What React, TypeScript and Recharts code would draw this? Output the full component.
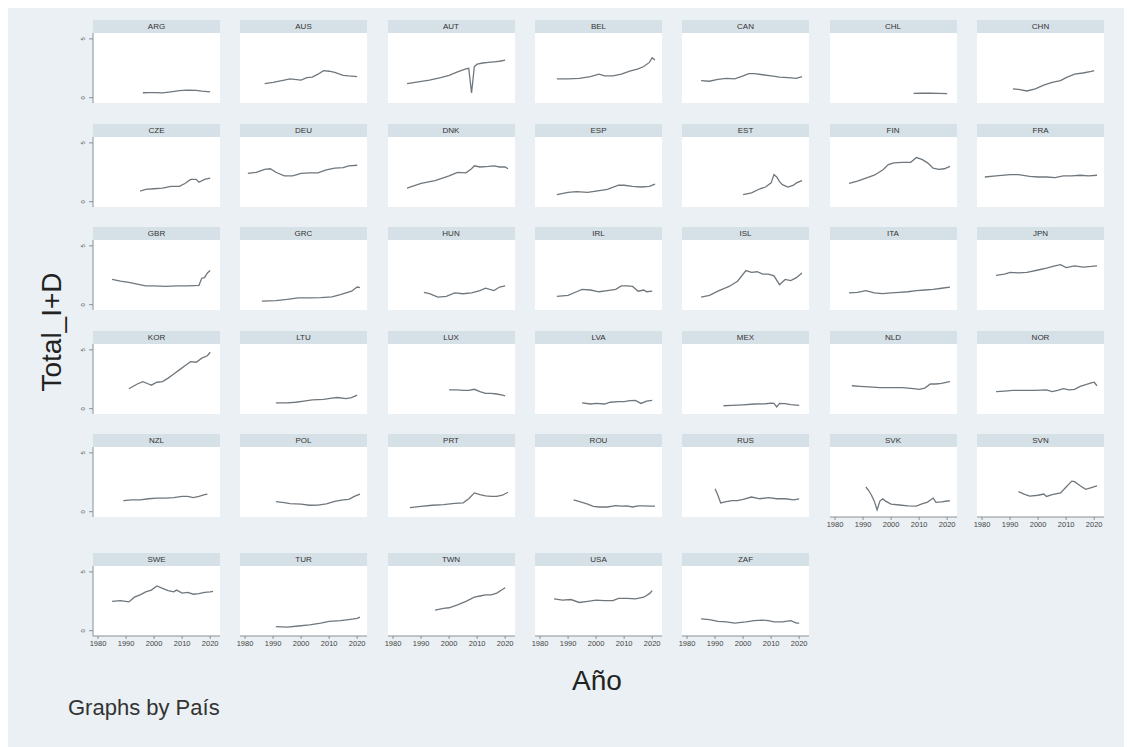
import React from 'react';
import { LineChart, Line, XAxis, YAxis } from 'recharts';

type Pt = [number, number];

const COUNTRIES = [
  'ARG', 'AUS', 'AUT', 'BEL', 'CAN', 'CHL', 'CHN',
  'CZE', 'DEU', 'DNK', 'ESP', 'EST', 'FIN', 'FRA',
  'GBR', 'GRC', 'HUN', 'IRL', 'ISL', 'ITA', 'JPN',
  'KOR', 'LTU', 'LUX', 'LVA', 'MEX', 'NLD', 'NOR',
  'NZL', 'POL', 'PRT', 'ROU', 'RUS', 'SVK', 'SVN',
  'SWE', 'TUR', 'TWN', 'USA', 'ZAF',
];

const YEAR_TICKS = [1980, 1990, 2000, 2010, 2020];
const VALUE_TICKS = [0, 5];

// Total_I+D by year
const ARG: Pt[] = [[1996, 0.42], [1998, 0.44], [2000, 0.44], [2003, 0.41], [2006, 0.5], [2009, 0.6], [2012, 0.65], [2015, 0.62], [2017, 0.56], [2020, 0.5]];
const AUS: Pt[] = [[1987, 1.2], [1990, 1.3], [1994, 1.5], [1996, 1.6], [2000, 1.5], [2002, 1.7], [2004, 1.75], [2006, 2.0], [2008, 2.3], [2010, 2.25], [2012, 2.15], [2015, 1.9], [2017, 1.85], [2020, 1.8]];
const AUT: Pt[] = [[1985, 1.2], [1989, 1.35], [1993, 1.5], [1997, 1.7], [2000, 1.9], [2003, 2.2], [2006, 2.45], [2007, 2.5], [2008, 0.4], [2009, 2.65], [2010, 2.85], [2012, 2.95], [2014, 3.0], [2016, 3.05], [2018, 3.1], [2020, 3.2]];
const BEL: Pt[] = [[1986, 1.6], [1990, 1.6], [1994, 1.65], [1998, 1.8], [2001, 2.0], [2003, 1.85], [2006, 1.85], [2009, 2.0], [2012, 2.25], [2015, 2.45], [2017, 2.65], [2019, 3.0], [2020, 3.4], [2021, 3.2]];
const CAN: Pt[] = [[1985, 1.45], [1988, 1.4], [1991, 1.55], [1994, 1.65], [1997, 1.6], [2000, 1.85], [2002, 2.05], [2004, 2.05], [2007, 1.95], [2010, 1.85], [2013, 1.75], [2016, 1.7], [2019, 1.65], [2021, 1.8]];
const CHL: Pt[] = [[2008, 0.37], [2011, 0.38], [2014, 0.39], [2017, 0.37], [2020, 0.35]];
const CHN: Pt[] = [[1991, 0.75], [1993, 0.7], [1996, 0.57], [1999, 0.76], [2002, 1.07], [2005, 1.31], [2008, 1.45], [2010, 1.71], [2013, 2.0], [2016, 2.1], [2019, 2.24], [2020, 2.3]];
const CZE: Pt[] = [[1995, 0.9], [1997, 1.05], [2000, 1.1], [2003, 1.15], [2006, 1.3], [2009, 1.3], [2011, 1.55], [2013, 1.9], [2015, 1.9], [2016, 1.65], [2018, 1.9], [2020, 2.0]];
const DEU: Pt[] = [[1981, 2.4], [1984, 2.5], [1987, 2.75], [1989, 2.8], [1991, 2.5], [1994, 2.2], [1997, 2.2], [2000, 2.4], [2003, 2.45], [2006, 2.45], [2009, 2.7], [2012, 2.85], [2015, 2.9], [2017, 3.05], [2020, 3.1]];
const DNK: Pt[] = [[1985, 1.15], [1990, 1.55], [1995, 1.8], [2000, 2.2], [2003, 2.5], [2006, 2.45], [2008, 2.8], [2009, 3.05], [2011, 2.95], [2014, 3.0], [2016, 3.05], [2018, 2.95], [2020, 2.95], [2021, 2.8]];
const ESP: Pt[] = [[1986, 0.6], [1990, 0.8], [1993, 0.85], [1997, 0.8], [2000, 0.9], [2004, 1.05], [2008, 1.4], [2010, 1.4], [2013, 1.3], [2016, 1.25], [2019, 1.3], [2021, 1.5]];
const EST: Pt[] = [[2000, 0.6], [2003, 0.75], [2006, 1.1], [2008, 1.25], [2010, 1.6], [2011, 2.3], [2012, 2.1], [2013, 1.7], [2014, 1.45], [2016, 1.25], [2018, 1.4], [2019, 1.6], [2021, 1.8]];
const FIN: Pt[] = [[1985, 1.55], [1988, 1.75], [1991, 2.0], [1994, 2.25], [1997, 2.7], [1999, 3.15], [2001, 3.3], [2004, 3.35], [2007, 3.35], [2009, 3.75], [2011, 3.6], [2013, 3.3], [2015, 2.85], [2017, 2.75], [2019, 2.8], [2021, 3.0]];
const FRA: Pt[] = [[1981, 2.1], [1985, 2.2], [1990, 2.3], [1993, 2.3], [1997, 2.15], [2000, 2.1], [2003, 2.1], [2006, 2.05], [2009, 2.2], [2012, 2.2], [2015, 2.25], [2018, 2.2], [2021, 2.25]];
const GBR: Pt[] = [[1985, 2.15], [1988, 2.0], [1991, 1.9], [1994, 1.75], [1997, 1.6], [2000, 1.6], [2004, 1.55], [2008, 1.6], [2012, 1.6], [2016, 1.65], [2017, 2.25], [2018, 2.3], [2019, 2.7], [2020, 2.9]];
const GRC: Pt[] = [[1986, 0.3], [1991, 0.35], [1995, 0.45], [1999, 0.58], [2003, 0.58], [2007, 0.6], [2011, 0.67], [2014, 0.85], [2016, 1.0], [2018, 1.15], [2020, 1.5], [2021, 1.45]];
const HUN: Pt[] = [[1991, 1.05], [1993, 0.95], [1996, 0.65], [1999, 0.7], [2002, 1.0], [2005, 0.93], [2008, 1.0], [2011, 1.2], [2013, 1.4], [2016, 1.2], [2018, 1.5], [2020, 1.6]];
const IRL: Pt[] = [[1986, 0.7], [1990, 0.8], [1993, 1.1], [1995, 1.3], [1998, 1.25], [2001, 1.1], [2004, 1.2], [2007, 1.3], [2009, 1.6], [2011, 1.6], [2013, 1.55], [2015, 1.15], [2017, 1.25], [2018, 1.1], [2020, 1.15]];
const ISL: Pt[] = [[1985, 0.65], [1988, 0.8], [1991, 1.15], [1995, 1.55], [1998, 2.0], [2001, 2.9], [2003, 2.75], [2005, 2.8], [2007, 2.6], [2009, 2.6], [2011, 2.45], [2013, 1.7], [2015, 2.15], [2017, 2.05], [2019, 2.3], [2021, 2.7]];
const ITA: Pt[] = [[1985, 1.0], [1988, 1.05], [1991, 1.2], [1994, 1.0], [1997, 0.95], [2000, 1.0], [2003, 1.05], [2006, 1.1], [2009, 1.2], [2012, 1.25], [2015, 1.3], [2018, 1.4], [2021, 1.5]];
const JPN: Pt[] = [[1985, 2.5], [1988, 2.6], [1990, 2.75], [1993, 2.7], [1996, 2.75], [2000, 2.95], [2003, 3.1], [2006, 3.3], [2008, 3.4], [2010, 3.15], [2013, 3.3], [2016, 3.2], [2019, 3.25], [2021, 3.3]];
const KOR: Pt[] = [[1991, 1.7], [1994, 2.1], [1996, 2.3], [1998, 2.1], [1999, 2.0], [2001, 2.25], [2003, 2.3], [2005, 2.6], [2007, 2.95], [2009, 3.3], [2011, 3.65], [2013, 4.0], [2015, 3.95], [2017, 4.3], [2019, 4.5], [2020, 4.8]];
const LTU: Pt[] = [[1991, 0.5], [1995, 0.5], [1998, 0.55], [2001, 0.65], [2004, 0.75], [2008, 0.8], [2011, 0.9], [2013, 0.95], [2016, 0.85], [2018, 0.95], [2020, 1.15]];
const LUX: Pt[] = [[2000, 1.6], [2003, 1.6], [2005, 1.55], [2007, 1.55], [2009, 1.65], [2011, 1.45], [2013, 1.3], [2015, 1.3], [2017, 1.25], [2019, 1.15], [2020, 1.1]];
const LVA: Pt[] = [[1995, 0.5], [1998, 0.4], [2000, 0.45], [2003, 0.4], [2005, 0.55], [2008, 0.6], [2010, 0.6], [2012, 0.68], [2014, 0.7], [2016, 0.45], [2018, 0.65], [2020, 0.7]];
const MEX: Pt[] = [[1993, 0.25], [1996, 0.28], [2000, 0.33], [2004, 0.4], [2008, 0.42], [2010, 0.48], [2011, 0.45], [2012, 0.15], [2013, 0.45], [2015, 0.43], [2017, 0.35], [2019, 0.3], [2020, 0.28]];
const NLD: Pt[] = [[1986, 1.95], [1989, 1.9], [1992, 1.85], [1996, 1.8], [2000, 1.8], [2004, 1.8], [2008, 1.7], [2010, 1.65], [2012, 1.75], [2014, 2.1], [2016, 2.1], [2018, 2.15], [2020, 2.25], [2021, 2.3]];
const NOR: Pt[] = [[1985, 1.45], [1988, 1.5], [1991, 1.55], [1995, 1.55], [1999, 1.55], [2003, 1.6], [2005, 1.45], [2007, 1.55], [2009, 1.7], [2011, 1.6], [2013, 1.65], [2015, 1.9], [2017, 2.05], [2019, 2.2], [2020, 2.25], [2021, 1.95]];
const NZL: Pt[] = [[1989, 0.95], [1992, 1.0], [1995, 1.0], [1998, 1.1], [2001, 1.15], [2004, 1.15], [2007, 1.2], [2010, 1.3], [2012, 1.3], [2014, 1.2], [2016, 1.3], [2018, 1.45], [2019, 1.5]];
const POL: Pt[] = [[1991, 0.85], [1994, 0.78], [1996, 0.68], [2000, 0.64], [2003, 0.55], [2006, 0.56], [2009, 0.67], [2012, 0.88], [2015, 1.0], [2017, 1.05], [2019, 1.3], [2021, 1.5]];
const PRT: Pt[] = [[1986, 0.35], [1990, 0.45], [1994, 0.55], [1998, 0.6], [2002, 0.7], [2005, 0.75], [2007, 1.1], [2009, 1.6], [2011, 1.45], [2013, 1.35], [2015, 1.3], [2017, 1.3], [2019, 1.4], [2021, 1.65]];
const ROU: Pt[] = [[1992, 1.0], [1995, 0.8], [1997, 0.65], [1999, 0.45], [2001, 0.4], [2004, 0.4], [2007, 0.52], [2009, 0.47], [2011, 0.5], [2013, 0.4], [2015, 0.5], [2017, 0.5], [2019, 0.48], [2021, 0.47]];
const RUS: Pt[] = [[1990, 1.95], [1991, 1.4], [1992, 0.75], [1994, 0.85], [1996, 0.95], [1998, 0.95], [2000, 1.05], [2003, 1.25], [2006, 1.1], [2009, 1.2], [2012, 1.1], [2015, 1.1], [2018, 1.0], [2020, 1.1]];
const SVK: Pt[] = [[1991, 2.1], [1992, 1.8], [1993, 1.4], [1994, 0.9], [1995, 0.15], [1996, 0.9], [1997, 1.1], [1998, 0.9], [2000, 0.65], [2003, 0.57], [2006, 0.49], [2009, 0.47], [2011, 0.66], [2013, 0.82], [2015, 1.16], [2016, 0.79], [2018, 0.84], [2020, 0.91], [2021, 0.92]];
const SVN: Pt[] = [[1993, 1.7], [1995, 1.5], [1997, 1.33], [2000, 1.4], [2002, 1.5], [2003, 1.3], [2005, 1.45], [2008, 1.6], [2010, 2.1], [2012, 2.6], [2013, 2.55], [2015, 2.2], [2017, 1.9], [2019, 2.05], [2021, 2.2]];
const SWE: Pt[] = [[1985, 2.5], [1988, 2.55], [1991, 2.45], [1993, 2.85], [1995, 3.05], [1997, 3.3], [1999, 3.45], [2001, 3.8], [2003, 3.6], [2005, 3.4], [2007, 3.3], [2008, 3.45], [2010, 3.2], [2012, 3.25], [2014, 3.1], [2016, 3.15], [2018, 3.25], [2020, 3.3], [2021, 3.35]];
const TUR: Pt[] = [[1991, 0.35], [1995, 0.3], [1999, 0.4], [2003, 0.5], [2007, 0.65], [2010, 0.8], [2014, 0.85], [2017, 0.95], [2020, 1.05], [2021, 1.15]];
const TWN: Pt[] = [[1995, 1.75], [1998, 1.9], [2000, 1.95], [2003, 2.2], [2006, 2.5], [2009, 2.85], [2011, 2.95], [2013, 3.05], [2015, 3.05], [2017, 3.2], [2019, 3.5], [2020, 3.65]];
const USA: Pt[] = [[1985, 2.7], [1988, 2.6], [1991, 2.65], [1994, 2.4], [1997, 2.5], [2000, 2.6], [2003, 2.55], [2006, 2.55], [2008, 2.75], [2011, 2.75], [2014, 2.7], [2017, 2.85], [2019, 3.15], [2020, 3.4]];
const ZAF: Pt[] = [[1985, 1.0], [1988, 0.95], [1991, 0.8], [1994, 0.75], [1997, 0.65], [2001, 0.75], [2004, 0.85], [2007, 0.9], [2009, 0.85], [2011, 0.75], [2014, 0.75], [2017, 0.85], [2019, 0.65], [2020, 0.65]];

const SERIES: Record<string, Pt[]> = {
  ARG, AUS, AUT, BEL, CAN, CHL, CHN, CZE, DEU, DNK, ESP, EST, FIN, FRA,
  GBR, GRC, HUN, IRL, ISL, ITA, JPN, KOR, LTU, LUX, LVA, MEX, NLD, NOR,
  NZL, POL, PRT, ROU, RUS, SVK, SVN, SWE, TUR, TWN, USA, ZAF,
};

// panels with an x axis underneath (bottom of each column)
const X_AXIS_PANELS = ['SVK', 'SVN', 'SWE', 'TUR', 'TWN', 'USA', 'ZAF'];

const COL_X = [85, 232, 379.5, 527, 674, 821.5, 969];
const ROW_Y = [25, 128.5, 232, 335.5, 439, 558];
const PLOT_W = 127;
const PLOT_H = 70;
const HEAD_H = 13;
const Y_AXIS_W = 30;
const X_AXIS_H = 22;

const BG = '#eaf0f3';
const HEAD = '#d6e0e7';
const LINE = '#6f777d';
const FONT = '"Liberation Sans", Arial, sans-serif';

const YTick = ({ x, y, payload }: any) => (
  <text x={x - 2} y={y} transform={`rotate(-90 ${x - 2} ${y})`} textAnchor="middle" fontSize={6} fill="#555" fontFamily={FONT}>
    {payload.value}
  </text>
);

const Panel = ({ code, col, row }: { code: string; col: number; row: number }) => {
  const showY = col === 0;
  const showX = X_AXIS_PANELS.includes(code);
  const data = SERIES[code].map(([year, v]) => ({ year, v }));
  const left = COL_X[col];
  const top = ROW_Y[row];
  return (
    <>
      <div style={{ position: 'absolute', left, top: top - HEAD_H, width: PLOT_W, height: HEAD_H, background: HEAD, color: '#333', fontSize: 8, lineHeight: `${HEAD_H}px`, textAlign: 'center', fontFamily: FONT }}>
        {code}
      </div>
      <div style={{ position: 'absolute', left, top, width: PLOT_W, height: PLOT_H, background: '#fff' }} />
      <div style={{ position: 'absolute', left: left - Y_AXIS_W, top }}>
        <LineChart
          width={PLOT_W + Y_AXIS_W}
          height={PLOT_H + X_AXIS_H}
          data={data}
          margin={{ top: 0, right: 0, left: showY ? 0 : Y_AXIS_W, bottom: showX ? 0 : X_AXIS_H }}
        >
          <XAxis
            type="number"
            dataKey="year"
            domain={[1978.2, 2023.5]}
            ticks={YEAR_TICKS}
            interval={0}
            allowDataOverflow
            hide={!showX}
            height={X_AXIS_H}
            tickSize={3}
            tickMargin={2}
            axisLine={{ stroke: '#8a9096' }}
            tickLine={{ stroke: '#8a9096' }}
            tick={{ fontSize: 7.5, fill: '#444', fontFamily: FONT }}
          />
          <YAxis
            type="number"
            domain={[-0.45, 5.5]}
            ticks={VALUE_TICKS}
            interval={0}
            allowDataOverflow
            hide={!showY}
            width={Y_AXIS_W}
            tickSize={4}
            tickMargin={2}
            axisLine={{ stroke: '#8a9096' }}
            tickLine={{ stroke: '#8a9096' }}
            tick={<YTick />}
          />
          <Line type="linear" dataKey="v" stroke={LINE} strokeWidth={1.3} dot={false} isAnimationActive={false} />
        </LineChart>
      </div>
    </>
  );
};

export default function App() {
  return (
    <div style={{ position: 'relative', width: 1124, height: 739, background: BG, overflow: 'hidden' }}>
      {COUNTRIES.map((code, i) => (
        <Panel key={code} code={code} col={i % 7} row={Math.floor(i / 7)} />
      ))}
      <div style={{ position: 'absolute', left: 44, top: 324, transform: 'translate(-50%, -50%) rotate(-90deg)', fontSize: 28, fontFamily: FONT, color: '#222', whiteSpace: 'nowrap' }}>
        Total_I+D
      </div>
      <div style={{ position: 'absolute', left: 589, top: 673, transform: 'translate(-50%, -50%)', fontSize: 28, fontFamily: FONT, color: '#222', whiteSpace: 'nowrap' }}>
        Año
      </div>
      <div style={{ position: 'absolute', left: 60, top: 689, fontSize: 22, lineHeight: 1, fontFamily: FONT, color: '#333', whiteSpace: 'nowrap' }}>
        Graphs by País
      </div>
    </div>
  );
}
